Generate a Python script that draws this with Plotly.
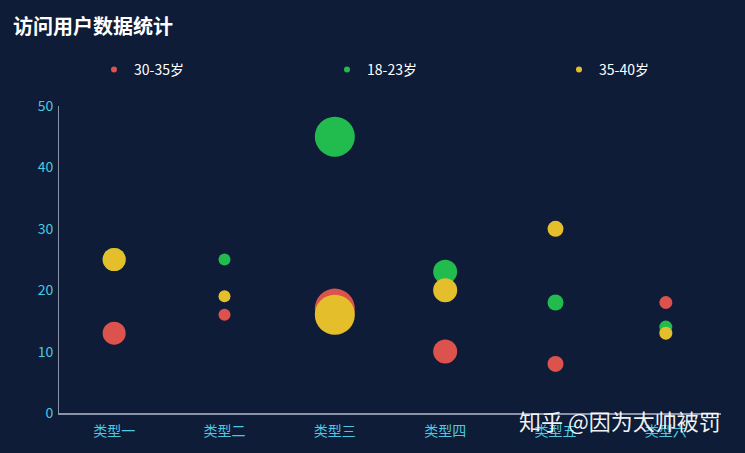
import plotly.graph_objects as go

categories = ["类型一", "类型二", "类型三", "类型四", "类型五", "类型六"]
sizes = [23, 12, 40, 24, 16, 13]
age_30_35 = [13, 16, 17, 10, 8, 18]
age_18_23 = [25, 25, 45, 23, 18, 14]
age_35_40 = [25, 19, 16, 20, 30, 13]

series = [
    ("30-35岁", age_30_35, "#dc524d", "legend"),
    ("18-23岁", age_18_23, "#22bb4e", "legend2"),
    ("35-40岁", age_35_40, "#e5bf2b", "legend3"),
]

font = "Noto Sans CJK SC, Microsoft YaHei, sans-serif"
fig = go.Figure()

for name, vals, col, leg in series:
    fig.add_trace(go.Scatter(
        x=categories, y=vals, mode="markers", name=name, legendgroup=name,
        showlegend=False,
        marker=dict(size=sizes, color=col, opacity=1, line=dict(width=0)),
    ))
    # small dots for the legend
    fig.add_trace(go.Scatter(
        x=[None], y=[None], mode="markers", name=name, legendgroup=name,
        legend=leg, marker=dict(size=6, color=col),
    ))

leg_y = 1 + (106 - 70) / 307
def legend_at(px):
    return dict(orientation="h", x=(px - 59) / 662, xanchor="left", y=leg_y,
                yanchor="middle", font=dict(size=14, color="#ffffff"),
                bgcolor="rgba(0,0,0,0)", itemwidth=30)

fig.update_layout(
    width=745, height=453,
    paper_bgcolor="#0e1c38", plot_bgcolor="#0e1c38",
    margin=dict(l=59, r=24, t=106, b=40),
    font=dict(family=font, color="#ffffff"),
    title=dict(text="<b>访问用户数据统计</b>", x=13/745, xanchor="left",
               xref="container", y=1-27/453, yanchor="middle", yref="container",
               font=dict(size=20, color="#ffffff")),
    legend=legend_at(94), legend2=legend_at(327), legend3=legend_at(559),
    xaxis=dict(range=[-0.5, 5.5], showgrid=False, zeroline=False,
               showline=True, linecolor="#8a93a8", linewidth=2,
               ticks="", ticklabelstandoff=4,
               tickfont=dict(size=14, color="#4cc9e0")),
    yaxis=dict(range=[0, 50], dtick=10, showgrid=False, zeroline=False,
               showline=True, linecolor="#8a93a8", linewidth=1,
               ticks="", ticklabelstandoff=2,
               tickfont=dict(size=14, color="#4cc9e0")),
    showlegend=True,
)

fig.add_annotation(text="知乎 @因为太帅被罚", xref="paper", yref="paper",
                   x=(517-59)/662, y=(413-420)/307, xanchor="left", yanchor="middle",
                   showarrow=False, font=dict(size=22, color="rgba(255,255,255,0.95)", family=font))

fig.write_html("out.html", config={"displayModeBar": False},
               post_script="document.body.style.margin='0';")
